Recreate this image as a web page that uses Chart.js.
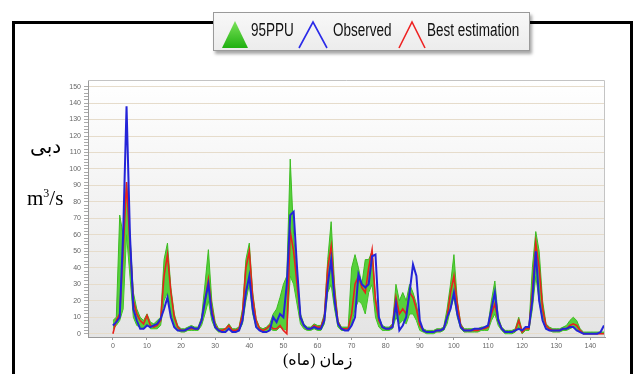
<!DOCTYPE html>
<html>
<head>
<meta charset="utf-8">
<script src="https://cdn.jsdelivr.net/npm/chart.js@4/dist/chart.umd.min.js"></script>
<style>
  body { margin: 0; background: #fff; }
  #wrap { position: relative; width: 642px; height: 374px; overflow: hidden; }
  #frame { position: absolute; left: 12px; top: 21px; width: 615px; height: 400px; border: 3px solid #000; }
  canvas { position: absolute; left: 0; top: 0; }
  #legend { position: absolute; left: 213px; top: 12px; width: 315px; height: 37px;
    background: linear-gradient(#f8f8f8, #ececec); border: 1px solid #9a9a9a;
    box-shadow: 2px 3px 3px rgba(0,0,0,0.35); }
  .lt { position: absolute; top: 7px; font: 18px "Liberation Sans", Arial, sans-serif; color: #111;
    transform: scaleX(0.75); transform-origin: left top; white-space: nowrap; }
  .ar { position: absolute; font-family: "Times New Roman", "Liberation Serif", "DejaVu Sans", serif; color: #000; }
</style>
</head>
<body>
<div id="wrap">
  <div id="frame"></div>
  <canvas id="c" width="642" height="374"></canvas>
  <div id="legend">
    <svg style="position:absolute;left:0;top:0" width="315" height="37">
      <defs>
        <linearGradient id="g" x1="0" y1="0" x2="0" y2="1">
          <stop offset="0" stop-color="#7be25a"/>
          <stop offset="1" stop-color="#20b010"/>
        </linearGradient>
      </defs>
      <polygon points="8,35 34,35 21,8" fill="url(#g)"/>
      <polyline points="85,35 99,9 113,35" fill="none" stroke="#2a2ae8" stroke-width="1.6"/>
      <polyline points="185,35 198,9 211,35" fill="none" stroke="#ee2222" stroke-width="1.6"/>
    </svg>
    <div class="lt" style="left:37px">95PPU</div>
    <div class="lt" style="left:119px">Observed</div>
    <div class="lt" style="left:213px">Best estimation</div>
  </div>
  <div class="ar" style="left:30px;top:134px;font-size:20px">دبی</div>
  <div class="ar" style="left:27px;top:186px;font-size:21px">m<sup style="font-size:12px">3</sup>/s</div>
  <div class="ar" style="left:283px;top:350px;font-size:16px" dir="rtl">زمان (ماه)</div>
</div>
<script>
const months = Array.from({ length: 145 }, (_, i) => i);
const xTicks = [0, 10, 20, 30, 40, 50, 60, 70, 80, 90, 100, 110, 120, 130, 140];
const yTicks = [0, 10, 20, 30, 40, 50, 60, 70, 80, 90, 100, 110, 120, 130, 140, 150];

const observed = [5, 7, 10, 60, 138, 60, 15, 8, 3, 3, 5, 4,
  5, 6, 9, 15, 22, 10, 4, 2, 2, 2, 3, 4,
  3, 3, 8, 20, 30, 12, 4, 2, 1, 1, 3, 1,
  1, 2, 8, 25, 35, 15, 4, 2, 1, 1, 2, 10,
  7, 12, 10, 30, 72, 74, 40, 10, 5, 3, 3, 4,
  3, 3, 8, 30, 45, 20, 6, 3, 2, 2, 5, 10,
  36, 30, 28, 30, 47, 48, 10, 4, 3, 3, 4, 18,
  2, 5, 10, 25, 42, 35, 8, 2, 1, 1, 1, 2,
  2, 3, 10, 15, 25, 12, 4, 2, 2, 2, 3, 3,
  3, 4, 5, 15, 25, 8, 3, 1, 1, 1, 2, 3,
  2, 4, 4, 20, 50, 20, 8, 3, 2, 2, 2, 2,
  3, 3, 4, 4, 2, 1, 0, 0, 0, 0, 0, 1, 5];

const bestEstimation = [0, 8, 12, 50, 92, 55, 20, 12, 8, 6, 11, 5,
  4, 5, 8, 35, 48, 25, 10, 4, 2, 2, 3, 3,
  3, 3, 8, 20, 33, 15, 5, 2, 2, 3, 5, 2,
  2, 3, 12, 40, 50, 22, 8, 3, 2, 3, 5, 3,
  3, 5, 2, 0, 62, 50, 30, 10, 5, 3, 3, 5,
  4, 4, 10, 40, 53, 25, 7, 3, 3, 3, 12, 30,
  35, 28, 25, 40, 51, 20, 8, 4, 3, 3, 5, 22,
  12, 15, 12, 25, 22, 15, 5, 2, 1, 1, 1, 2,
  2, 3, 10, 25, 35, 18, 5, 2, 2, 2, 2, 2,
  3, 3, 4, 12, 18, 8, 3, 1, 1, 1, 2, 8,
  1, 3, 3, 25, 55, 40, 15, 5, 3, 2, 2, 2,
  3, 3, 5, 6, 5, 2, 0, 0, 0, 0, 0, 0, 0];

const ppuUpper = [8, 10, 72, 60, 92, 60, 25, 15, 10, 8, 12, 7,
  6, 8, 10, 45, 55, 28, 12, 5, 3, 3, 4, 5,
  4, 4, 10, 30, 51, 20, 7, 3, 3, 3, 6, 3,
  3, 4, 15, 45, 55, 25, 9, 4, 3, 4, 6, 12,
  15, 22, 30, 35, 106, 60, 35, 12, 6, 4, 4, 6,
  5, 5, 12, 45, 68, 30, 8, 4, 4, 4, 40, 48,
  40, 30, 45, 45, 50, 22, 10, 5, 4, 4, 6, 30,
  20, 25, 20, 30, 25, 18, 6, 3, 2, 2, 2, 3,
  3, 4, 15, 30, 48, 20, 6, 3, 3, 3, 3, 3,
  4, 4, 5, 20, 32, 10, 4, 2, 2, 2, 3, 10,
  2, 4, 4, 40, 62, 50, 20, 6, 4, 3, 3, 3,
  4, 5, 8, 10, 8, 3, 1, 1, 1, 1, 1, 1, 1];

const ppuLower = [3, 5, 8, 15, 60, 35, 10, 5, 4, 3, 6, 3,
  3, 3, 5, 20, 25, 12, 5, 2, 1, 1, 2, 2,
  2, 2, 5, 12, 20, 8, 3, 1, 1, 1, 3, 1,
  1, 2, 6, 20, 30, 12, 4, 2, 1, 1, 3, 2,
  2, 4, 3, 2, 35, 30, 18, 6, 3, 2, 2, 3,
  2, 2, 6, 25, 30, 15, 4, 2, 2, 2, 6, 15,
  20, 18, 12, 25, 30, 10, 4, 2, 2, 2, 3, 10,
  6, 8, 6, 12, 12, 8, 2, 1, 0, 0, 0, 1,
  1, 2, 6, 15, 22, 10, 3, 1, 1, 1, 1, 1,
  2, 2, 2, 8, 12, 5, 2, 0, 0, 0, 1, 4,
  0, 2, 2, 15, 35, 20, 8, 3, 2, 1, 1, 1,
  2, 2, 3, 4, 3, 1, 0, 0, 0, 0, 0, 0, 0];

const pts = arr => arr.map((v, i) => ({ x: months[i], y: v }));

const plotBg = {
  id: 'plotBg',
  beforeDraw(chart) {
    const { ctx, chartArea: a } = chart;
    const g = ctx.createLinearGradient(0, a.top, 0, a.bottom);
    g.addColorStop(0, '#ffffff');
    g.addColorStop(1, '#e4e4e4');
    ctx.save();
    ctx.fillStyle = g;
    ctx.fillRect(a.left, a.top, a.right - a.left, a.bottom - a.top);
    ctx.restore();
  },
  afterDraw(chart) {
    const { ctx, chartArea: a } = chart;
    ctx.save();
    ctx.strokeStyle = '#c4c4c4';
    ctx.lineWidth = 1;
    ctx.beginPath();
    ctx.moveTo(a.left, a.top + 0.5);
    ctx.lineTo(a.right - 0.5, a.top + 0.5);
    ctx.lineTo(a.right - 0.5, a.bottom);
    ctx.stroke();
    ctx.restore();
  }
};

new Chart(document.getElementById('c'), {
  type: 'line',
  data: {
    datasets: [
      { data: pts(ppuLower), borderColor: '#3cbc22', borderWidth: 1, fill: false, order: 3 },
      { data: pts(ppuUpper), borderColor: '#3cbc22', borderWidth: 1,
        backgroundColor: 'rgba(70,205,40,0.9)', fill: '-1', order: 2 },
      { data: pts(bestEstimation), borderColor: '#e8221c', borderWidth: 1.6, fill: false, order: 1 },
      { data: pts(observed), borderColor: '#2424d8', borderWidth: 2, fill: false, order: 0 }
    ]
  },
  options: {
    responsive: false,
    animation: false,
    layout: { padding: { left: 0, top: 80, right: 37, bottom: 0 } },
    elements: { point: { radius: 0 }, line: { tension: 0 } },
    plugins: { legend: { display: false }, tooltip: { enabled: false } },
    scales: {
      x: {
        type: 'linear', min: -7.3, max: 144.3,
        afterBuildTicks: s => { s.ticks = xTicks.map(v => ({ value: v })); },
        afterFit: s => { s.height = 37; },
        grid: { display: true, drawOnChartArea: false, tickLength: 3, tickColor: '#999' },
        border: { color: '#999' },
        ticks: { font: { size: 7 }, color: '#666', padding: 2, maxRotation: 0 }
      },
      y: {
        min: -2, max: 154,
        afterBuildTicks: s => {
          const t = [];
          for (const v of yTicks) { t.push({ value: v }); if (v < 150) for (let k = 2; k < 10; k += 2) t.push({ value: v + k }); }
          s.ticks = t;
        },
        afterFit: s => { s.width = 88; },
        grid: {
          color: c => (c.tick && c.tick.value % 10 === 0) ? '#e6dccb' : 'rgba(0,0,0,0)',
          tickColor: '#aaa', tickLength: 4
        },
        border: { color: '#999' },
        ticks: {
          font: { size: 7 }, color: '#666', padding: 3, autoSkip: false,
          callback: v => (v % 10 === 0 ? v : '')
        }
      }
    }
  },
  plugins: [plotBg]
});
</script>
</body>
</html>
